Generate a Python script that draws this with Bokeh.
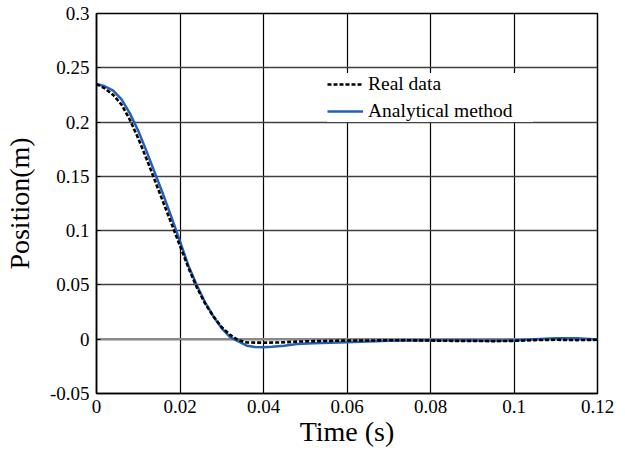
from bokeh.plotting import figure
from bokeh.models import Range1d, FixedTicker, Span, Legend, LegendItem
from bokeh.embed import file_html
from bokeh.resources import INLINE

# ---- data ----
t_model = [0, 0.002, 0.004, 0.006, 0.008, 0.010, 0.012, 0.014, 0.016, 0.018,
           0.020, 0.022, 0.024, 0.026, 0.028, 0.030, 0.032, 0.034, 0.036, 0.038,
           0.040, 0.042, 0.045, 0.048, 0.052, 0.056, 0.060, 0.065, 0.070, 0.075,
           0.080, 0.085, 0.090, 0.095, 0.100, 0.105, 0.110, 0.115, 0.120]
pos_model = [0.235, 0.233, 0.229, 0.221, 0.208, 0.192, 0.173, 0.153, 0.133, 0.112,
             0.090, 0.068, 0.050, 0.034, 0.021, 0.010, 0.002, -0.002, -0.006, -0.0072,
             -0.0074, -0.0070, -0.0060, -0.0045, -0.0038, -0.0032, -0.0027, -0.0022, -0.0015, -0.0012,
             -0.0010, -0.0010, -0.0012, -0.0015, -0.0012, 0.0000, 0.0010, 0.0008, -0.0002]

t_real = [0, 0.002, 0.004, 0.006, 0.008, 0.010, 0.012, 0.014, 0.016, 0.018,
          0.020, 0.022, 0.024, 0.026, 0.028, 0.030, 0.032, 0.034, 0.036, 0.040,
          0.044, 0.048, 0.052, 0.056, 0.060, 0.065, 0.070, 0.075, 0.080, 0.085,
          0.090, 0.095, 0.100, 0.105, 0.110, 0.115, 0.120]
pos_real = [0.235, 0.231, 0.225, 0.216, 0.202, 0.185, 0.166, 0.146, 0.126, 0.106,
            0.086, 0.066, 0.048, 0.033, 0.021, 0.011, 0.004, -0.001, -0.003, -0.0032,
            -0.003, -0.0022, -0.0018, -0.0015, -0.0012, -0.0012, -0.0010, -0.0010, -0.0012, -0.0015,
            -0.0015, -0.0018, -0.0015, -0.0008, -0.0005, -0.0008, -0.0005]

x_ticks = [0, 0.02, 0.04, 0.06, 0.08, 0.10, 0.12]
x_tick_labels = ["0", "0.02", "0.04", "0.06", "0.08", "0.1", "0.12"]
y_ticks = [-0.05, 0, 0.05, 0.10, 0.15, 0.20, 0.25, 0.30]
y_tick_labels = ["-0.05", "0", "0.05", "0.1", "0.15", "0.2", "0.25", "0.3"]

series_names = ["Real data", "Analytical method"]
x_title = "Time (s)"
y_title = "Position(m)"

FONT = "Liberation Serif"

p = figure(width=617, height=450, output_backend="svg", toolbar_location=None,
           x_range=Range1d(0, 0.12), y_range=Range1d(-0.05, 0.3),
           min_border_left=95, min_border_right=20, min_border_top=13, min_border_bottom=57)
p.background_fill_color = "white"
p.border_fill_color = "white"
p.outline_line_color = "black"
p.outline_line_width = 1.5

p.xaxis.ticker = FixedTicker(ticks=x_ticks)
p.yaxis.ticker = FixedTicker(ticks=y_ticks)
p.xaxis.major_label_overrides = {v: s for v, s in zip(x_ticks, x_tick_labels)}
p.yaxis.major_label_overrides = {v: s for v, s in zip(y_ticks, y_tick_labels)}

for ax in (p.xaxis, p.yaxis):
    ax.axis_line_color = "black"
    ax.axis_line_width = 1.5
    ax.major_tick_in = 4
    ax.major_tick_out = 0
    ax.minor_tick_line_color = None
    ax.major_tick_line_color = "black"
    ax.major_label_text_font = FONT
    ax.major_label_text_font_size = "19px"
    ax.major_label_text_color = "black"
    ax.axis_label_text_font = FONT
    ax.axis_label_text_font_size = "28px"
    ax.axis_label_text_font_style = "normal"
    ax.axis_label_text_color = "black"

p.xaxis.axis_label = x_title
p.yaxis.axis_label = y_title
p.xaxis.major_label_standoff = 6
p.xaxis.axis_label_standoff = 0
p.yaxis.major_label_standoff = 7
p.yaxis.axis_label_standoff = 12

p.xgrid.ticker = FixedTicker(ticks=x_ticks)
p.ygrid.ticker = FixedTicker(ticks=y_ticks)
p.xgrid.grid_line_color = "black"
p.xgrid.grid_line_width = 1.2
p.ygrid.grid_line_color = "#404040"
p.ygrid.grid_line_width = 1.5

zero = Span(location=0, dimension="width", line_color="#8a8a8a", line_width=2.2, level="underlay")
p.add_layout(zero)

r_real = p.line(t_real, pos_real, line_color="black", line_width=2.6, line_dash="4 2")
r_model = p.line(t_model, pos_model, line_color="#2461b8", line_width=2.5)
p.renderers = [r_model, r_real]

legend = Legend(items=[LegendItem(label=series_names[0], renderers=[r_real]),
                       LegendItem(label=series_names[1], renderers=[r_model])],
                location=(231, 271))
legend.border_line_color = None
legend.background_fill_color = "white"
legend.background_fill_alpha = 1.0
legend.label_text_font = FONT
legend.label_text_font_size = "19.5px"
legend.label_text_color = "black"
legend.glyph_width = 36
legend.glyph_height = 20
legend.label_height = 20
legend.label_width = 165
legend.label_standoff = 5
legend.spacing = 5
legend.padding = 6
legend.margin = 0
p.add_layout(legend, "center")

open("out.html", "w").write(file_html(p, INLINE))
